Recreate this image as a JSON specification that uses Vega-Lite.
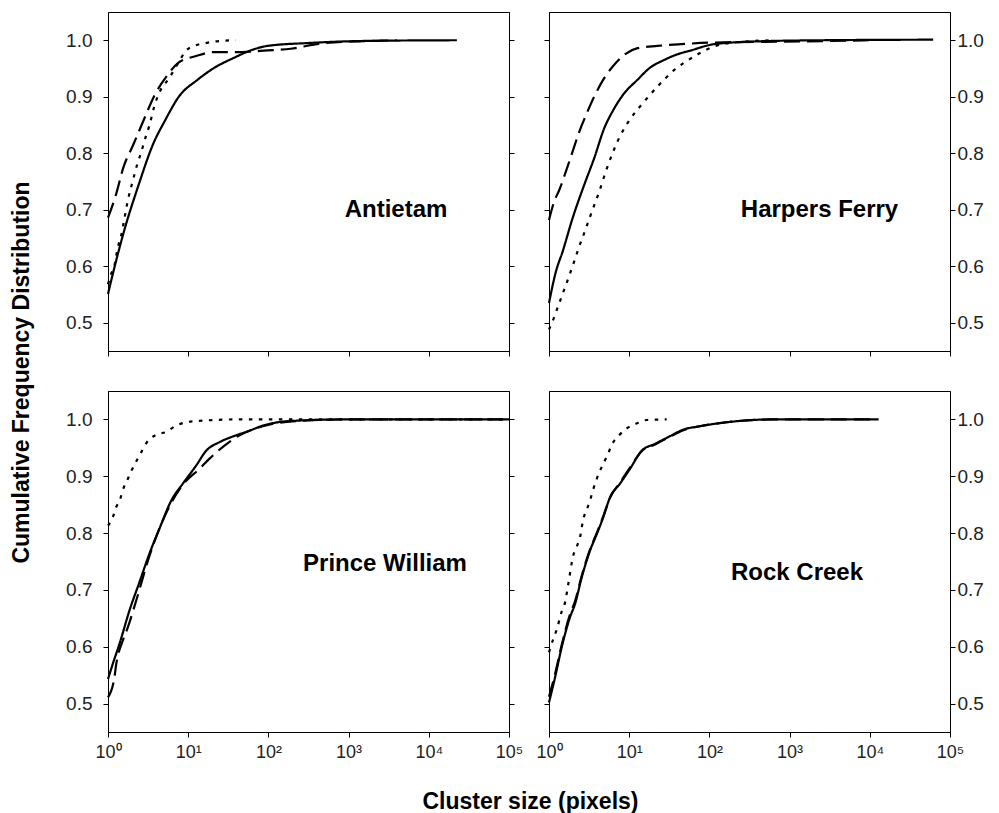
{
  "$schema": "https://vega.github.io/schema/vega-lite/v6.json",
  "background": "white",
  "padding": {"left": 9, "top": 11, "right": 4, "bottom": 4},
  "datasets": {
    "curves": [
      {"park":"Antietam","curve":"A","size":1,"cdf":0.551},{"park":"Antietam","curve":"A","size":1.259,"cdf":0.609},{"park":"Antietam","curve":"A","size":1.675,"cdf":0.674},{"park":"Antietam","curve":"A","size":2.344,"cdf":0.739},{"park":"Antietam","curve":"A","size":3.776,"cdf":0.821},{"park":"Antietam","curve":"A","size":5.012,"cdf":0.855},{"park":"Antietam","curve":"A","size":7.727,"cdf":0.901},{"park":"Antietam","curve":"A","size":13.06,"cdf":0.93},{"park":"Antietam","curve":"A","size":21.04,"cdf":0.951},{"park":"Antietam","curve":"A","size":37.33,"cdf":0.969},{"park":"Antietam","curve":"A","size":57.54,"cdf":0.981},{"park":"Antietam","curve":"A","size":97.72,"cdf":0.99},{"park":"Antietam","curve":"A","size":302,"cdf":0.995},{"park":"Antietam","curve":"A","size":1995,"cdf":0.999},{"park":"Antietam","curve":"A","size":22390,"cdf":1.0},
      {"park":"Antietam","curve":"B","size":1,"cdf":0.686},{"park":"Antietam","curve":"B","size":1.259,"cdf":0.727},{"park":"Antietam","curve":"B","size":1.549,"cdf":0.774},{"park":"Antietam","curve":"B","size":2.065,"cdf":0.815},{"park":"Antietam","curve":"B","size":2.754,"cdf":0.857},{"park":"Antietam","curve":"B","size":3.846,"cdf":0.904},{"park":"Antietam","curve":"B","size":5.37,"cdf":0.936},{"park":"Antietam","curve":"B","size":7.516,"cdf":0.96},{"park":"Antietam","curve":"B","size":12.59,"cdf":0.972},{"park":"Antietam","curve":"B","size":20.42,"cdf":0.979},{"park":"Antietam","curve":"B","size":37.15,"cdf":0.979},{"park":"Antietam","curve":"B","size":97.72,"cdf":0.982},{"park":"Antietam","curve":"B","size":190.5,"cdf":0.985},{"park":"Antietam","curve":"B","size":489.8,"cdf":0.995},{"park":"Antietam","curve":"B","size":2239,"cdf":0.999},{"park":"Antietam","curve":"B","size":3981,"cdf":1.0},
      {"park":"Antietam","curve":"C","size":1,"cdf":0.568},{"park":"Antietam","curve":"C","size":1.089,"cdf":0.586},{"park":"Antietam","curve":"C","size":1.197,"cdf":0.6},{"park":"Antietam","curve":"C","size":1.318,"cdf":0.632},{"park":"Antietam","curve":"C","size":1.452,"cdf":0.653},{"park":"Antietam","curve":"C","size":1.596,"cdf":0.683},{"park":"Antietam","curve":"C","size":1.758,"cdf":0.715},{"park":"Antietam","curve":"C","size":2.028,"cdf":0.75},{"park":"Antietam","curve":"C","size":2.344,"cdf":0.783},{"park":"Antietam","curve":"C","size":2.57,"cdf":0.8},{"park":"Antietam","curve":"C","size":2.965,"cdf":0.83},{"park":"Antietam","curve":"C","size":3.266,"cdf":0.848},{"park":"Antietam","curve":"C","size":3.776,"cdf":0.883},{"park":"Antietam","curve":"C","size":4.355,"cdf":0.907},{"park":"Antietam","curve":"C","size":5.794,"cdf":0.933},{"park":"Antietam","curve":"C","size":7.727,"cdf":0.963},{"park":"Antietam","curve":"C","size":9.333,"cdf":0.981},{"park":"Antietam","curve":"C","size":12.42,"cdf":0.991},{"park":"Antietam","curve":"C","size":16.52,"cdf":0.995},{"park":"Antietam","curve":"C","size":22.03,"cdf":0.998},{"park":"Antietam","curve":"C","size":39.08,"cdf":1.0},
      {"park":"Harpers Ferry","curve":"A","size":1,"cdf":0.535},{"park":"Harpers Ferry","curve":"A","size":1.222,"cdf":0.591},{"park":"Harpers Ferry","curve":"A","size":1.479,"cdf":0.626},{"park":"Harpers Ferry","curve":"A","size":1.968,"cdf":0.685},{"park":"Harpers Ferry","curve":"A","size":2.748,"cdf":0.744},{"park":"Harpers Ferry","curve":"A","size":3.656,"cdf":0.791},{"park":"Harpers Ferry","curve":"A","size":4.875,"cdf":0.844},{"park":"Harpers Ferry","curve":"A","size":6.194,"cdf":0.874},{"park":"Harpers Ferry","curve":"A","size":8.65,"cdf":0.906},{"park":"Harpers Ferry","curve":"A","size":12.68,"cdf":0.93},{"park":"Harpers Ferry","curve":"A","size":17.66,"cdf":0.95},{"park":"Harpers Ferry","curve":"A","size":27.16,"cdf":0.965},{"park":"Harpers Ferry","curve":"A","size":43.85,"cdf":0.977},{"park":"Harpers Ferry","curve":"A","size":55.59,"cdf":0.981},{"park":"Harpers Ferry","curve":"A","size":113.8,"cdf":0.993},{"park":"Harpers Ferry","curve":"A","size":398,"cdf":0.998},{"park":"Harpers Ferry","curve":"A","size":2512,"cdf":1.0},{"park":"Harpers Ferry","curve":"A","size":61660,"cdf":1.001},
      {"park":"Harpers Ferry","curve":"B","size":1,"cdf":0.682},{"park":"Harpers Ferry","curve":"B","size":1.164,"cdf":0.715},{"park":"Harpers Ferry","curve":"B","size":1.343,"cdf":0.735},{"park":"Harpers Ferry","curve":"B","size":1.626,"cdf":0.768},{"park":"Harpers Ferry","curve":"B","size":1.968,"cdf":0.803},{"park":"Harpers Ferry","curve":"B","size":2.382,"cdf":0.838},{"park":"Harpers Ferry","curve":"B","size":3.027,"cdf":0.874},{"park":"Harpers Ferry","curve":"B","size":3.656,"cdf":0.9},{"park":"Harpers Ferry","curve":"B","size":4.875,"cdf":0.933},{"park":"Harpers Ferry","curve":"B","size":6.194,"cdf":0.953},{"park":"Harpers Ferry","curve":"B","size":8.65,"cdf":0.974},{"park":"Harpers Ferry","curve":"B","size":12.68,"cdf":0.986},{"park":"Harpers Ferry","curve":"B","size":22.49,"cdf":0.99},{"park":"Harpers Ferry","curve":"B","size":43.85,"cdf":0.993},{"park":"Harpers Ferry","curve":"B","size":113.8,"cdf":0.996},{"park":"Harpers Ferry","curve":"B","size":1622,"cdf":0.998},{"park":"Harpers Ferry","curve":"B","size":10000,"cdf":1.0},
      {"park":"Harpers Ferry","curve":"C","size":1,"cdf":0.488},{"park":"Harpers Ferry","curve":"C","size":1.112,"cdf":0.503},{"park":"Harpers Ferry","curve":"C","size":1.343,"cdf":0.535},{"park":"Harpers Ferry","curve":"C","size":1.626,"cdf":0.567},{"park":"Harpers Ferry","curve":"C","size":1.968,"cdf":0.6},{"park":"Harpers Ferry","curve":"C","size":2.382,"cdf":0.635},{"park":"Harpers Ferry","curve":"C","size":2.884,"cdf":0.667},{"park":"Harpers Ferry","curve":"C","size":3.491,"cdf":0.7},{"park":"Harpers Ferry","curve":"C","size":4.227,"cdf":0.732},{"park":"Harpers Ferry","curve":"C","size":5.117,"cdf":0.768},{"park":"Harpers Ferry","curve":"C","size":6.194,"cdf":0.8},{"park":"Harpers Ferry","curve":"C","size":7.87,"cdf":0.833},{"park":"Harpers Ferry","curve":"C","size":10.47,"cdf":0.862},{"park":"Harpers Ferry","curve":"C","size":15.3,"cdf":0.891},{"park":"Harpers Ferry","curve":"C","size":22.5,"cdf":0.918},{"park":"Harpers Ferry","curve":"C","size":36.2,"cdf":0.947},{"park":"Harpers Ferry","curve":"C","size":64.1,"cdf":0.971},{"park":"Harpers Ferry","curve":"C","size":113.8,"cdf":0.989},{"park":"Harpers Ferry","curve":"C","size":245.5,"cdf":0.997},{"park":"Harpers Ferry","curve":"C","size":631,"cdf":1.0},
      {"park":"Prince William","curve":"A","size":1,"cdf":0.543},{"park":"Prince William","curve":"A","size":1.148,"cdf":0.57},{"park":"Prince William","curve":"A","size":1.39,"cdf":0.605},{"park":"Prince William","curve":"A","size":1.854,"cdf":0.664},{"park":"Prince William","curve":"A","size":2.472,"cdf":0.714},{"park":"Prince William","curve":"A","size":3.289,"cdf":0.764},{"park":"Prince William","curve":"A","size":4.385,"cdf":0.808},{"park":"Prince William","curve":"A","size":6.138,"cdf":0.857},{"park":"Prince William","curve":"A","size":8.57,"cdf":0.887},{"park":"Prince William","curve":"A","size":12.59,"cdf":0.919},{"park":"Prince William","curve":"A","size":16.79,"cdf":0.945},{"park":"Prince William","curve":"A","size":24.55,"cdf":0.96},{"park":"Prince William","curve":"A","size":36.06,"cdf":0.97},{"park":"Prince William","curve":"A","size":55.46,"cdf":0.979},{"park":"Prince William","curve":"A","size":85.11,"cdf":0.989},{"park":"Prince William","curve":"A","size":180.7,"cdf":0.997},{"park":"Prince William","curve":"A","size":1000,"cdf":1.0},{"park":"Prince William","curve":"A","size":100000,"cdf":1.0},
      {"park":"Prince William","curve":"B","size":1,"cdf":0.511},{"park":"Prince William","curve":"B","size":1.202,"cdf":0.546},{"park":"Prince William","curve":"B","size":1.259,"cdf":0.567},{"park":"Prince William","curve":"B","size":1.531,"cdf":0.611},{"park":"Prince William","curve":"B","size":1.766,"cdf":0.634},{"park":"Prince William","curve":"B","size":2.244,"cdf":0.681},{"park":"Prince William","curve":"B","size":3.289,"cdf":0.76},{"park":"Prince William","curve":"B","size":6.138,"cdf":0.853},{"park":"Prince William","curve":"B","size":8.57,"cdf":0.885},{"park":"Prince William","curve":"B","size":13.8,"cdf":0.913},{"park":"Prince William","curve":"B","size":18.45,"cdf":0.931},{"park":"Prince William","curve":"B","size":28.38,"cdf":0.954},{"park":"Prince William","curve":"B","size":43.65,"cdf":0.972},{"park":"Prince William","curve":"B","size":85.11,"cdf":0.988},{"park":"Prince William","curve":"B","size":180.7,"cdf":0.996},{"park":"Prince William","curve":"B","size":1000,"cdf":1.0},{"park":"Prince William","curve":"B","size":100000,"cdf":1.0},
      {"park":"Prince William","curve":"C","size":1,"cdf":0.813},{"park":"Prince William","curve":"C","size":1.148,"cdf":0.828},{"park":"Prince William","curve":"C","size":1.259,"cdf":0.845},{"park":"Prince William","curve":"C","size":1.419,"cdf":0.86},{"park":"Prince William","curve":"C","size":1.531,"cdf":0.876},{"park":"Prince William","curve":"C","size":1.738,"cdf":0.893},{"park":"Prince William","curve":"C","size":1.945,"cdf":0.909},{"park":"Prince William","curve":"C","size":2.244,"cdf":0.926},{"park":"Prince William","curve":"C","size":2.594,"cdf":0.942},{"park":"Prince William","curve":"C","size":2.992,"cdf":0.958},{"park":"Prince William","curve":"C","size":3.981,"cdf":0.973},{"park":"Prince William","curve":"C","size":5.321,"cdf":0.978},{"park":"Prince William","curve":"C","size":7.079,"cdf":0.989},{"park":"Prince William","curve":"C","size":9.441,"cdf":0.995},{"park":"Prince William","curve":"C","size":12.59,"cdf":0.997},{"park":"Prince William","curve":"C","size":21.38,"cdf":0.999},{"park":"Prince William","curve":"C","size":39.08,"cdf":1.0},{"park":"Prince William","curve":"C","size":100000,"cdf":1.0},
      {"park":"Rock Creek","curve":"A","size":1,"cdf":0.502},{"park":"Rock Creek","curve":"A","size":1.189,"cdf":0.546},{"park":"Rock Creek","curve":"A","size":1.439,"cdf":0.599},{"park":"Rock Creek","curve":"A","size":1.828,"cdf":0.652},{"park":"Rock Creek","curve":"A","size":2.109,"cdf":0.675},{"park":"Rock Creek","curve":"A","size":2.559,"cdf":0.722},{"park":"Rock Creek","curve":"A","size":3.243,"cdf":0.769},{"park":"Rock Creek","curve":"A","size":3.936,"cdf":0.798},{"park":"Rock Creek","curve":"A","size":4.753,"cdf":0.828},{"park":"Rock Creek","curve":"A","size":5.768,"cdf":0.863},{"park":"Rock Creek","curve":"A","size":7.674,"cdf":0.887},{"park":"Rock Creek","curve":"A","size":10.23,"cdf":0.913},{"park":"Rock Creek","curve":"A","size":14.32,"cdf":0.945},{"park":"Rock Creek","curve":"A","size":20.99,"cdf":0.957},{"park":"Rock Creek","curve":"A","size":30.76,"cdf":0.969},{"park":"Rock Creek","curve":"A","size":47.32,"cdf":0.982},{"park":"Rock Creek","curve":"A","size":75.86,"cdf":0.988},{"park":"Rock Creek","curve":"A","size":164.4,"cdf":0.995},{"park":"Rock Creek","curve":"A","size":631,"cdf":1.0},{"park":"Rock Creek","curve":"A","size":12880,"cdf":1.0},
      {"park":"Rock Creek","curve":"B","size":1,"cdf":0.512},{"park":"Rock Creek","curve":"B","size":1.189,"cdf":0.552},{"park":"Rock Creek","curve":"B","size":1.439,"cdf":0.603},{"park":"Rock Creek","curve":"B","size":1.828,"cdf":0.657},{"park":"Rock Creek","curve":"B","size":2.109,"cdf":0.68},{"park":"Rock Creek","curve":"B","size":2.559,"cdf":0.725},{"park":"Rock Creek","curve":"B","size":3.243,"cdf":0.771},{"park":"Rock Creek","curve":"B","size":3.936,"cdf":0.8},{"park":"Rock Creek","curve":"B","size":4.753,"cdf":0.83},{"park":"Rock Creek","curve":"B","size":5.768,"cdf":0.862},{"park":"Rock Creek","curve":"B","size":7.674,"cdf":0.889},{"park":"Rock Creek","curve":"B","size":10.23,"cdf":0.915},{"park":"Rock Creek","curve":"B","size":14.32,"cdf":0.944},{"park":"Rock Creek","curve":"B","size":20.99,"cdf":0.956},{"park":"Rock Creek","curve":"B","size":30.76,"cdf":0.968},{"park":"Rock Creek","curve":"B","size":47.32,"cdf":0.981},{"park":"Rock Creek","curve":"B","size":75.86,"cdf":0.988},{"park":"Rock Creek","curve":"B","size":164.4,"cdf":0.995},{"park":"Rock Creek","curve":"B","size":631,"cdf":1.0},{"park":"Rock Creek","curve":"B","size":10000,"cdf":1.0},
      {"park":"Rock Creek","curve":"C","size":1,"cdf":0.59},{"park":"Rock Creek","curve":"C","size":1.132,"cdf":0.614},{"park":"Rock Creek","curve":"C","size":1.247,"cdf":0.63},{"park":"Rock Creek","curve":"C","size":1.439,"cdf":0.662},{"park":"Rock Creek","curve":"C","size":1.585,"cdf":0.678},{"park":"Rock Creek","curve":"C","size":1.742,"cdf":0.711},{"park":"Rock Creek","curve":"C","size":2.009,"cdf":0.761},{"park":"Rock Creek","curve":"C","size":2.213,"cdf":0.776},{"park":"Rock Creek","curve":"C","size":2.438,"cdf":0.793},{"park":"Rock Creek","curve":"C","size":2.679,"cdf":0.825},{"park":"Rock Creek","curve":"C","size":2.951,"cdf":0.841},{"park":"Rock Creek","curve":"C","size":3.243,"cdf":0.857},{"park":"Rock Creek","curve":"C","size":3.508,"cdf":0.874},{"park":"Rock Creek","curve":"C","size":3.819,"cdf":0.89},{"park":"Rock Creek","curve":"C","size":4.236,"cdf":0.907},{"park":"Rock Creek","curve":"C","size":4.753,"cdf":0.922},{"park":"Rock Creek","curve":"C","size":5.395,"cdf":0.938},{"park":"Rock Creek","curve":"C","size":6.053,"cdf":0.955},{"park":"Rock Creek","curve":"C","size":7.464,"cdf":0.972},{"park":"Rock Creek","curve":"C","size":9.75,"cdf":0.986},{"park":"Rock Creek","curve":"C","size":13.0,"cdf":0.994},{"park":"Rock Creek","curve":"C","size":16.52,"cdf":0.999},{"park":"Rock Creek","curve":"C","size":29.31,"cdf":1.0}
    ]
  },
  "columns": 2,
  "spacing": {"row": 40, "column": 40},
  "bounds": "flush",
  "align": "each",
  "concat": [
    {
      "width": 401, "height": 339,
      "layer": [
        {
          "data": {"name": "curves"},
          "transform": [{"filter": "datum.park === 'Antietam'"}],
          "mark": {"type": "line", "color": "#000", "interpolate": "monotone"},
          "encoding": {
            "x": {"field": "size", "type": "quantitative", "scale": {"type": "log", "domain": [1, 100000], "nice": false}, "axis": {"values": [1, 10, 100, 1000, 10000, 100000], "labels": false, "title": null}},
            "y": {"field": "cdf", "type": "quantitative", "scale": {"domain": [0.45, 1.05], "nice": false, "zero": false}, "axis": {"orient": "left", "values": [0.5, 0.6, 0.7, 0.8, 0.9, 1.0], "format": ".1f", "labelPadding": 11, "title": "Cumulative Frequency Distribution", "titleX": -80, "titleY": 360, "titleAlign": "center", "titleBaseline": "alphabetic", "titleAngle": 270}},
            "strokeDash": {"field": "curve", "type": "nominal", "scale": {"domain": ["A", "B", "C"], "range": [[1, 0], [16, 7], [3.5, 6.5]]}, "legend": null},
            "strokeWidth": {"field": "curve", "type": "nominal", "scale": {"domain": ["A", "B", "C"], "range": [2.2, 2.2, 3.5]}, "legend": null}
          }
        },
        {
          "data": {"values": [{"park": "Antietam"}]},
          "mark": {"type": "text", "font": "Liberation Sans", "fontSize": 24, "fontWeight": "bold", "color": "#000"},
          "encoding": {
            "text": {"field": "park"},
            "x": {"datum": 3900, "type": "quantitative", "scale": {"type": "log", "domain": [1, 100000], "nice": false}},
            "y": {"datum": 0.7, "type": "quantitative", "scale": {"domain": [0.45, 1.05], "nice": false, "zero": false}, "axis": {"orient": "right", "values": [0.5, 0.6, 0.7, 0.8, 0.9, 1.0], "labels": false, "title": null}}
          }
        }
      ],
      "resolve": {"axis": {"y": "independent"}}
    },
    {
      "width": 401, "height": 339,
      "layer": [
        {
          "data": {"name": "curves"},
          "transform": [{"filter": "datum.park === 'Harpers Ferry'"}],
          "mark": {"type": "line", "color": "#000", "interpolate": "monotone"},
          "encoding": {
            "x": {"field": "size", "type": "quantitative", "scale": {"type": "log", "domain": [1, 100000], "nice": false}, "axis": {"values": [1, 10, 100, 1000, 10000, 100000], "labels": false, "title": null}},
            "y": {"field": "cdf", "type": "quantitative", "scale": {"domain": [0.45, 1.05], "nice": false, "zero": false}, "axis": {"orient": "right", "values": [0.5, 0.6, 0.7, 0.8, 0.9, 1.0], "format": ".1f", "labelPadding": 2, "title": null}},
            "strokeDash": {"field": "curve", "type": "nominal", "scale": {"domain": ["A", "B", "C"], "range": [[1, 0], [16, 7], [3.5, 6.5]]}, "legend": null},
            "strokeWidth": {"field": "curve", "type": "nominal", "scale": {"domain": ["A", "B", "C"], "range": [2.2, 2.2, 3.5]}, "legend": null}
          }
        },
        {
          "data": {"values": [{"park": "Harpers Ferry"}]},
          "mark": {"type": "text", "font": "Liberation Sans", "fontSize": 24, "fontWeight": "bold", "color": "#000"},
          "encoding": {
            "text": {"field": "park"},
            "x": {"datum": 2360, "type": "quantitative", "scale": {"type": "log", "domain": [1, 100000], "nice": false}},
            "y": {"datum": 0.7, "type": "quantitative", "scale": {"domain": [0.45, 1.05], "nice": false, "zero": false}, "axis": {"orient": "left", "values": [0.5, 0.6, 0.7, 0.8, 0.9, 1.0], "labels": false, "title": null}}
          }
        }
      ],
      "resolve": {"axis": {"y": "independent"}}
    },
    {
      "width": 401, "height": 341,
      "layer": [
        {
          "data": {"name": "curves"},
          "transform": [{"filter": "datum.park === 'Prince William'"}],
          "mark": {"type": "line", "color": "#000", "interpolate": "monotone"},
          "encoding": {
            "x": {"field": "size", "type": "quantitative", "scale": {"type": "log", "domain": [1, 100000], "nice": false}, "axis": {"values": [1, 10, 100, 1000, 10000, 100000], "labelExpr": "'10' + ['⁰','¹','²','³','⁴','⁵'][round(log(datum.value)/LN10)]", "labelFlush": false, "labelOverlap": false, "labelFontSize": 18, "labelPadding": 6, "title": "Cluster size (pixels)", "titleX": 422, "titleY": 76, "titleAlign": "center", "titleBaseline": "alphabetic"}},
            "y": {"field": "cdf", "type": "quantitative", "scale": {"domain": [0.45, 1.05], "nice": false, "zero": false}, "axis": {"orient": "left", "values": [0.5, 0.6, 0.7, 0.8, 0.9, 1.0], "format": ".1f", "labelPadding": 11, "title": null}},
            "strokeDash": {"field": "curve", "type": "nominal", "scale": {"domain": ["A", "B", "C"], "range": [[1, 0], [16, 7], [3.5, 6.5]]}, "legend": null},
            "strokeWidth": {"field": "curve", "type": "nominal", "scale": {"domain": ["A", "B", "C"], "range": [2.2, 2.2, 3.5]}, "legend": null}
          }
        },
        {
          "data": {"values": [{"park": "Prince William"}]},
          "mark": {"type": "text", "font": "Liberation Sans", "fontSize": 24, "fontWeight": "bold", "color": "#000"},
          "encoding": {
            "text": {"field": "park"},
            "x": {"datum": 2844, "type": "quantitative", "scale": {"type": "log", "domain": [1, 100000], "nice": false}},
            "y": {"datum": 0.746, "type": "quantitative", "scale": {"domain": [0.45, 1.05], "nice": false, "zero": false}, "axis": {"orient": "right", "values": [0.5, 0.6, 0.7, 0.8, 0.9, 1.0], "labels": false, "title": null}}
          }
        }
      ],
      "resolve": {"axis": {"y": "independent"}}
    },
    {
      "width": 401, "height": 341,
      "layer": [
        {
          "data": {"name": "curves"},
          "transform": [{"filter": "datum.park === 'Rock Creek'"}],
          "mark": {"type": "line", "color": "#000", "interpolate": "monotone"},
          "encoding": {
            "x": {"field": "size", "type": "quantitative", "scale": {"type": "log", "domain": [1, 100000], "nice": false}, "axis": {"values": [1, 10, 100, 1000, 10000, 100000], "labelExpr": "'10' + ['⁰','¹','²','³','⁴','⁵'][round(log(datum.value)/LN10)]", "labelFlush": false, "labelOverlap": false, "labelFontSize": 18, "labelPadding": 6, "title": null}},
            "y": {"field": "cdf", "type": "quantitative", "scale": {"domain": [0.45, 1.05], "nice": false, "zero": false}, "axis": {"orient": "right", "values": [0.5, 0.6, 0.7, 0.8, 0.9, 1.0], "format": ".1f", "labelPadding": 2, "title": null}},
            "strokeDash": {"field": "curve", "type": "nominal", "scale": {"domain": ["A", "B", "C"], "range": [[1, 0], [16, 7], [3.5, 6.5]]}, "legend": null},
            "strokeWidth": {"field": "curve", "type": "nominal", "scale": {"domain": ["A", "B", "C"], "range": [2.2, 2.2, 3.5]}, "legend": null}
          }
        },
        {
          "data": {"values": [{"park": "Rock Creek"}]},
          "mark": {"type": "text", "font": "Liberation Sans", "fontSize": 24, "fontWeight": "bold", "color": "#000"},
          "encoding": {
            "text": {"field": "park"},
            "x": {"datum": 1237, "type": "quantitative", "scale": {"type": "log", "domain": [1, 100000], "nice": false}},
            "y": {"datum": 0.729, "type": "quantitative", "scale": {"domain": [0.45, 1.05], "nice": false, "zero": false}, "axis": {"orient": "left", "values": [0.5, 0.6, 0.7, 0.8, 0.9, 1.0], "labels": false, "title": null}}
          }
        }
      ],
      "resolve": {"axis": {"y": "independent"}}
    }
  ],
  "config": {
    "view": {"stroke": "#000", "strokeWidth": 1},
    "axis": {"domainColor": "#000", "domainWidth": 1, "tickColor": "#000", "tickWidth": 1, "tickSize": 5, "grid": false, "labelFont": "Liberation Sans", "labelFontSize": 19, "labelColor": "#222", "titleFont": "Liberation Sans", "titleFontSize": 23, "titleFontWeight": "bold", "titleColor": "#000"}
  }
}
